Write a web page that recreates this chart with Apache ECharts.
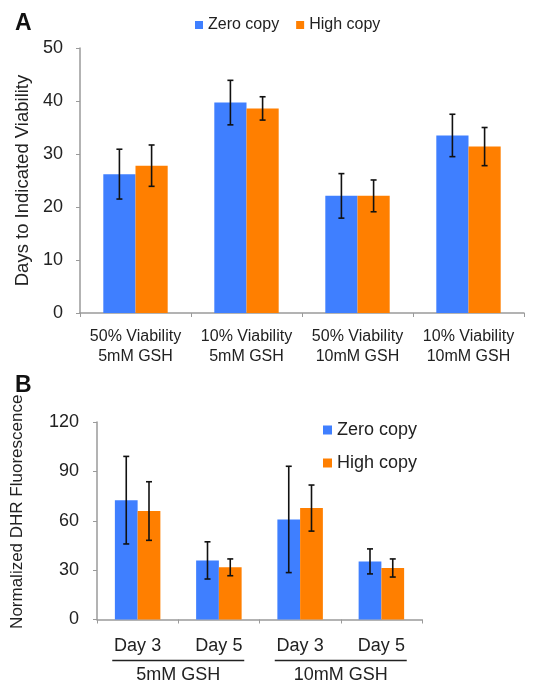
<!DOCTYPE html>
<html>
<head>
<meta charset="utf-8">
<script src="https://cdn.jsdelivr.net/npm/echarts@6/dist/echarts.min.js"></script>
<style>html,body{margin:0;padding:0;background:#fff;}#c{width:533px;height:684px;}</style>
</head>
<body>
<div id="c"></div>
<script>
// ---- Panel A data ----
const catsA = ['50% Viability\n5mM GSH', '10% Viability\n5mM GSH', '50% Viability\n10mM GSH', '10% Viability\n10mM GSH'];
const zeroA = [26.2, 39.7, 22.1, 33.5];
const zeroAErr = [4.7, 4.2, 4.2, 4.0];
const highA = [27.8, 38.6, 22.1, 31.4];
const highAErr = [3.9, 2.2, 3.0, 3.6];
const ticksA = [0, 10, 20, 30, 40, 50];

// ---- Panel B data ----
const catsB = ['Day 3', 'Day 5', 'Day 3', 'Day 5'];
const groupsB = ['5mM GSH', '10mM GSH'];
const zeroB = [72.5, 35.9, 60.8, 35.3];
const zeroBErr = [26.6, 11.3, 32.3, 7.6];
const highB = [65.9, 31.7, 67.7, 31.3];
const highBErr = [17.8, 5.1, 14.0, 5.5];
const ticksB = [0, 30, 60, 90, 120];

const seriesNames = ['Zero copy', 'High copy'];

const BLUE = '#3F7FFF', ORANGE = '#FF7F00';
const FONT = 'Liberation Sans, Arial, Helvetica, sans-serif';
const TXT = '#222';
const AXIS = '#9a9a9a';
const BW_A = 0.29, BW_B = 0.28;

function errSeries(name, vals, errs, xi, yi, sign, bw) {
  return {
    type: 'custom', name: name, xAxisIndex: xi, yAxisIndex: yi, z: 10,
    data: vals.map((v, i) => [i, v, errs[i]]),
    encode: { x: 0, y: 1 },
    renderItem: function (params, api) {
      const i = api.value(0), v = api.value(1), e = api.value(2);
      const c = api.coord([i, v]);
      const band = api.size([1, 0])[0];
      const cx = c[0] + sign * band * bw / 2;
      const top = api.coord([i, v + e])[1];
      const bot = api.coord([i, v - e])[1];
      const cap = 3;
      const st = { stroke: '#111', lineWidth: 1.6 };
      return { type: 'group', children: [
        { type: 'line', shape: { x1: cx, y1: top, x2: cx, y2: bot }, style: st },
        { type: 'line', shape: { x1: cx - cap, y1: top, x2: cx + cap, y2: top }, style: st },
        { type: 'line', shape: { x1: cx - cap, y1: bot, x2: cx + cap, y2: bot }, style: st }
      ]};
    },
    tooltip: { show: false }
  };
}

const chart = echarts.init(document.getElementById('c'), null, { renderer: 'canvas' });
chart.setOption({
  animation: false,
  backgroundColor: '#fff',
  textStyle: { fontFamily: FONT, color: TXT },
  title: [
    { text: 'A', left: 10, top: 7, textStyle: { fontSize: 23, fontWeight: 'bold', color: '#111', fontFamily: FONT } },
    { text: 'B', left: 10, top: 369, textStyle: { fontSize: 23, fontWeight: 'bold', color: '#111', fontFamily: FONT } }
  ],
  legend: [
    { data: seriesNames, left: 190, top: 12, icon: 'rect', itemWidth: 8, itemHeight: 8, itemGap: 17,
      textStyle: { fontSize: 16, color: TXT, fontFamily: FONT } },
    { data: seriesNames, orient: 'vertical', left: 318, top: 416, icon: 'rect', itemWidth: 9, itemHeight: 9, itemGap: 15,
      textStyle: { fontSize: 18, color: TXT, fontFamily: FONT } }
  ],
  grid: [
    { left: 80, right: 9, top: 48, bottom: 371 },
    { left: 97, right: 111, top: 422, bottom: 64 }
  ],
  xAxis: [
    { type: 'category', gridIndex: 0, data: catsA,
      axisLine: { lineStyle: { color: AXIS, width: 1.5 } },
      axisTick: { show: true, length: 4, lineStyle: { color: AXIS } },
      axisLabel: { fontSize: 16, lineHeight: 20, color: TXT, margin: 14, interval: 0, fontFamily: FONT } },
    { type: 'category', gridIndex: 1, data: catsB,
      axisLine: { lineStyle: { color: AXIS, width: 1.5 } },
      axisTick: { show: true, length: 4, lineStyle: { color: AXIS } },
      axisLabel: { fontSize: 18, color: TXT, margin: 18, interval: 0, fontFamily: FONT } },
    { type: 'category', gridIndex: 1, data: groupsB, position: 'bottom',
      axisLine: { show: false }, axisTick: { show: false },
      axisLabel: { interval: 0, margin: 40, color: TXT,
        formatter: function (v) { return '{u| }\n{t|' + v + '}'; },
        rich: {
          u: { width: 132, height: 1.5, lineHeight: 2, fontSize: 1, backgroundColor: '#222' },
          t: { fontSize: 18, lineHeight: 27, color: TXT, fontFamily: FONT }
        } } }
  ],
  yAxis: [
    { type: 'value', gridIndex: 0, min: 0, max: 50, interval: 10,
      name: 'Days to Indicated Viability', nameLocation: 'middle', nameGap: 47,
      nameTextStyle: { fontSize: 18.5, color: TXT, fontFamily: FONT },
      axisLine: { show: true, lineStyle: { color: AXIS, width: 1.5 } },
      axisTick: { show: true, length: 4, lineStyle: { color: AXIS } },
      splitLine: { show: false },
      axisLabel: { fontSize: 18, color: TXT, margin: 17, fontFamily: FONT,
        formatter: function (v) { return ticksA.indexOf(v) >= 0 ? String(v) : ''; } } },
    { type: 'value', gridIndex: 1, min: 0, max: 120, interval: 30,
      name: 'Normalized DHR Fluorescence', nameLocation: 'middle', nameGap: 71,
      nameTextStyle: { fontSize: 17, color: TXT, fontFamily: FONT, padding: [0, 0, 0, 18] },
      axisLine: { show: true, lineStyle: { color: AXIS, width: 1.5 } },
      axisTick: { show: true, length: 4, lineStyle: { color: AXIS } },
      splitLine: { show: false },
      axisLabel: { fontSize: 18, color: TXT, margin: 18, fontFamily: FONT,
        formatter: function (v) { return ticksB.indexOf(v) >= 0 ? String(v) : ''; } } }
  ],
  series: [
    { type: 'bar', name: seriesNames[0], xAxisIndex: 0, yAxisIndex: 0, data: zeroA, barWidth: (BW_A * 100) + '%', barGap: '0%', itemStyle: { color: BLUE } },
    { type: 'bar', name: seriesNames[1], xAxisIndex: 0, yAxisIndex: 0, data: highA, barWidth: (BW_A * 100) + '%', barGap: '0%', itemStyle: { color: ORANGE } },
    { type: 'bar', name: seriesNames[0], xAxisIndex: 1, yAxisIndex: 1, data: zeroB, barWidth: (BW_B * 100) + '%', barGap: '0%', itemStyle: { color: BLUE } },
    { type: 'bar', name: seriesNames[1], xAxisIndex: 1, yAxisIndex: 1, data: highB, barWidth: (BW_B * 100) + '%', barGap: '0%', itemStyle: { color: ORANGE } },
    errSeries('errZA', zeroA, zeroAErr, 0, 0, -1, BW_A),
    errSeries('errHA', highA, highAErr, 0, 0, 1, BW_A),
    errSeries('errZB', zeroB, zeroBErr, 1, 1, -1, BW_B),
    errSeries('errHB', highB, highBErr, 1, 1, 1, BW_B)
  ]
});
</script>
</body>
</html>
